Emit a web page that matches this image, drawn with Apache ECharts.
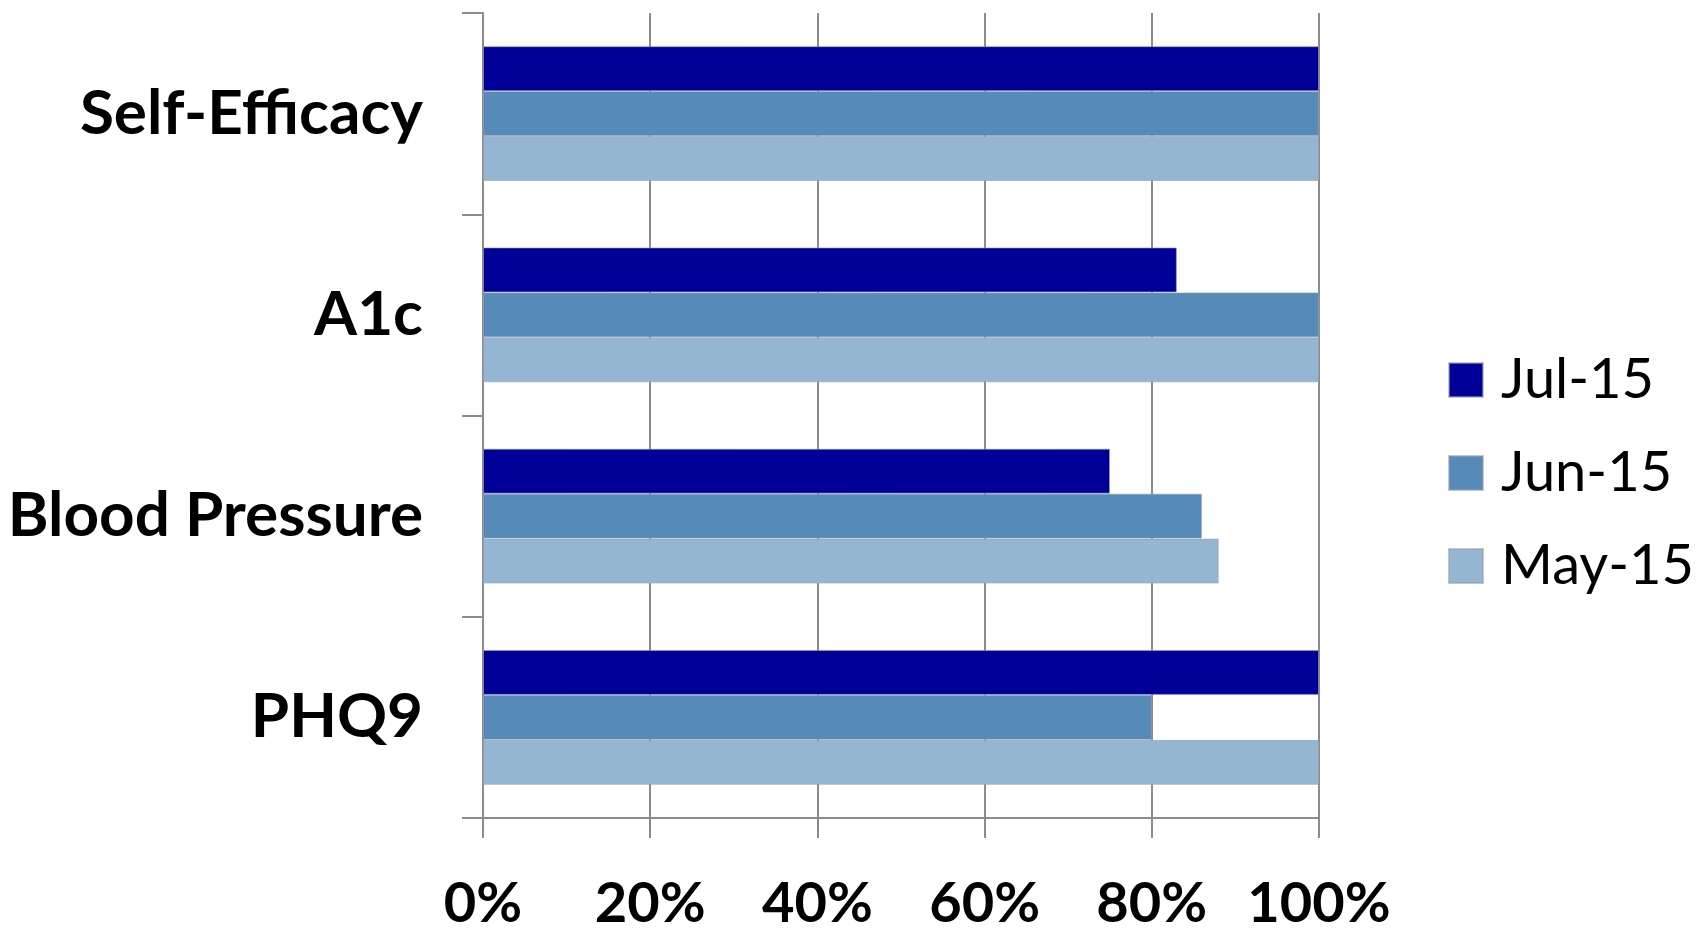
<!DOCTYPE html>
<html>
<head>
<meta charset="utf-8">
<script src="https://cdn.jsdelivr.net/npm/echarts@6/dist/echarts.min.js"></script>
<style>
  html, body { margin: 0; padding: 0; background: #fff; }
  #chart { width: 1700px; height: 934px; }
</style>
</head>
<body>
<div id="chart"></div>
<script>
var categories = ['Self-Efficacy', 'A1c', 'Blood Pressure', 'PHQ9'];
var seriesNames = ['Jul-15', 'Jun-15', 'May-15'];
var jul15 = [100, 83, 75, 100];
var jun15 = [100, 100, 86, 80];
var may15 = [100, 100, 88, 100];
var colors = ['#000099', '#558ab9', '#95b6d3'];

var chart = echarts.init(document.getElementById('chart'));
var grey = '#8c8c8c';

function bar(name, data, color) {
  return {
    name: name,
    type: 'bar',
    data: data,
    barGap: '0%',
    barCategoryGap: '33%',
    itemStyle: { color: color, borderColor: 'rgba(150,160,180,0.6)', borderWidth: 1 }
  };
}

chart.setOption({
  animation: false,
  color: colors,
  grid: { left: 483, right: 381, top: 13, bottom: 116, containLabel: false },
  legend: {
    orient: 'vertical',
    left: 1448,
    top: 350,
    padding: 0,
    itemWidth: 34,
    itemHeight: 34,
    itemGap: 33,
    icon: 'rect',
    textStyle: { fontFamily: 'Lato', fontSize: 56, color: '#000', lineHeight: 60, padding: [0, 0, 0, 13] },
    data: seriesNames
  },
  xAxis: {
    type: 'value',
    min: 0,
    max: 100,
    interval: 20,
    axisLine: { show: true, lineStyle: { color: grey, width: 2 } },
    axisTick: { show: true, length: 20, lineStyle: { color: grey, width: 2 } },
    splitLine: { show: true, lineStyle: { color: grey, width: 2 } },
    axisLabel: {
      formatter: '{value}%',
      margin: 58,
      fontFamily: 'Lato',
      fontWeight: 'bold',
      fontSize: 56,
      color: '#000'
    }
  },
  yAxis: {
    type: 'category',
    inverse: true,
    data: categories,
    axisLine: { show: true, lineStyle: { color: grey, width: 2 } },
    axisTick: { show: true, length: 21, lineStyle: { color: grey, width: 2 } },
    axisLabel: {
      margin: 60,
      fontFamily: 'Lato',
      fontWeight: 'bold',
      fontSize: 62,
      color: '#000'
    }
  },
  series: [
    bar(seriesNames[0], jul15, colors[0]),
    bar(seriesNames[1], jun15, colors[1]),
    bar(seriesNames[2], may15, colors[2])
  ]
});
</script>
</body>
</html>
